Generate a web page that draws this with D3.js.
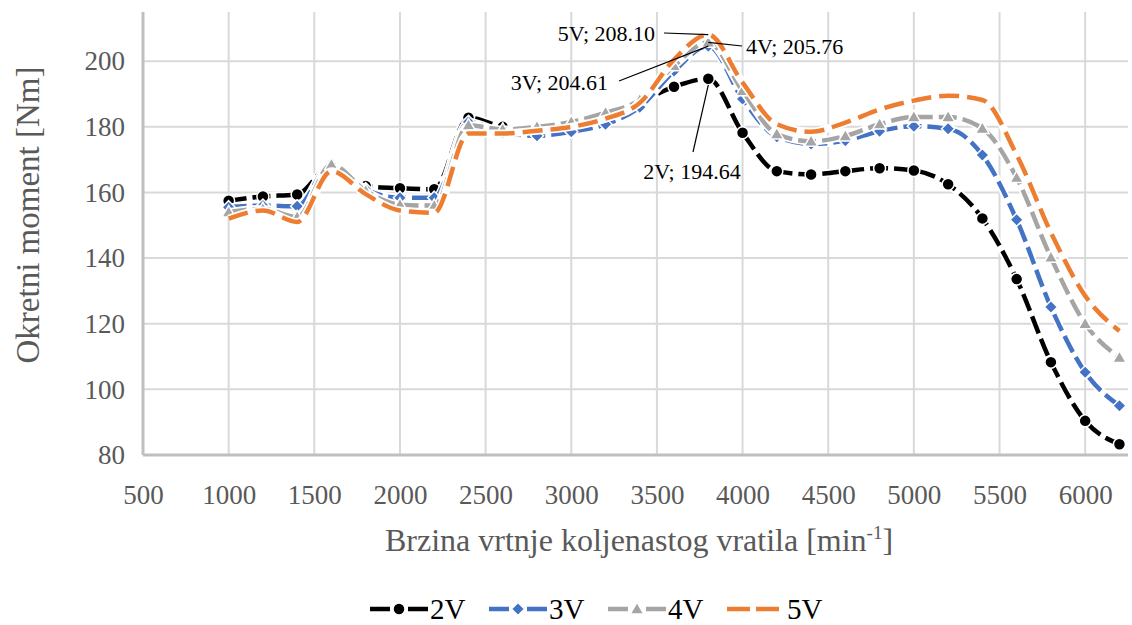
<!DOCTYPE html>
<html>
<head>
<meta charset="utf-8">
<script src="https://cdn.jsdelivr.net/npm/d3@7"></script>
<style>
  body { margin: 0; background: #fff; }
  svg { display: block; }
  svg text { font-family: "Liberation Serif", "DejaVu Serif", "Noto Serif", serif; }
</style>
</head>
<body>
<svg id="chart" width="1132" height="625"></svg>
<script>
// brzina vrtnje [min-1]
var rpm = [1000, 1200, 1400, 1600, 1800, 2000, 2200, 2400, 2600, 2800, 3000, 3200, 3400, 3600,
  3800, 4000, 4200, 4400, 4600, 4800, 5000, 5200, 5400, 5600, 5800, 6000, 6200]

// okretni moment [Nm] po seriji
var m2V = [157.5, 158.8, 159.4, 168.3, 162.0, 161.3, 161.0, 182.8, 180.0, 179.0, 179.0, 183.0, 187.5, 192.2,
  194.64, 178.2, 166.5, 165.5, 166.5, 167.4, 166.7, 162.5, 152.1, 133.6, 108.3, 90.4, 83.3]
var m3V = [155.5, 156.0, 155.8, 168.8, 161.0, 158.4, 158.4, 181.5, 178.3, 177.3, 178.5, 180.8, 186.0, 197.0,
  204.61, 188.5, 177.0, 174.8, 175.8, 178.7, 180.2, 179.4, 171.4, 151.7, 125.1, 105.2, 95.0]
var m4V = [154.0, 155.0, 152.5, 168.5, 160.5, 156.3, 156.0, 180.5, 179.2, 180.0, 181.5, 184.3, 188.2, 198.6,
  205.76, 191.0, 177.8, 175.6, 177.2, 180.8, 183.0, 183.0, 179.5, 164.5, 140.2, 120.0, 109.7]
var m5V = [152.0, 154.5, 151.0, 166.5, 159.5, 154.5, 153.8, 178.0, 178.0, 178.8, 180.0, 182.5, 187.3, 200.5,
  208.10, 193.5, 180.8, 178.5, 181.3, 185.3, 188.0, 189.5, 188.2, 171.5, 147.8, 128.5, 117.8]

var seriesNames = ["2V", "3V", "4V", "5V"]
var xTicks = [500, 1000, 1500, 2000, 2500, 3000, 3500, 4000, 4500, 5000, 5500, 6000]
var yTicks = [80, 100, 120, 140, 160, 180, 200]

// oznake vrha (3800 min-1)
var peakRpm = 3800
var peakLabels = ["5V", "4V", "3V", "2V"]

var values = { "2V": m2V, "3V": m3V, "4V": m4V, "5V": m5V }
var style = {
  "2V": { color: "#000000", marker: "circle", dash: "18,6" },
  "3V": { color: "#4472c4", marker: "diamond", dash: "18,6" },
  "4V": { color: "#a5a5a5", marker: "triangle", dash: "18,6" },
  "5V": { color: "#ed7d31", marker: null, dash: "20,8" }
}
var serif = "Liberation Serif, DejaVu Serif, Noto Serif, serif"

var svg = d3.select("#chart")
var x = d3.scaleLinear().domain([500, 6250]).range([143, 1128])
var y = d3.scaleLinear().domain([80, 215]).range([455, 12])

// mreza
svg.append("g").selectAll("line").data(yTicks.slice(1)).join("line")
  .attr("x1", x(500)).attr("x2", x(6250))
  .attr("y1", d => y(d)).attr("y2", d => y(d))
  .attr("stroke", "#d9d9d9").attr("stroke-width", 2)
svg.append("g").selectAll("line").data(xTicks.slice(1)).join("line")
  .attr("x1", d => x(d)).attr("x2", d => x(d))
  .attr("y1", y(80)).attr("y2", y(215))
  .attr("stroke", "#d9d9d9").attr("stroke-width", 2)

// osi
var xAxis = svg.append("g").attr("transform", "translate(0," + y(80) + ")")
  .call(d3.axisBottom(x).tickValues(xTicks).tickSize(0).tickPadding(30).tickFormat(d3.format("d")))
var yAxis = svg.append("g").attr("transform", "translate(" + x(500) + ",0)")
  .call(d3.axisLeft(y).tickValues(yTicks).tickSize(0).tickPadding(18))
xAxis.attr("font-family", serif)
yAxis.attr("font-family", serif)
xAxis.select(".domain").attr("stroke", "#bfbfbf").attr("stroke-width", 3)
  .attr("d", "M" + x(500) + ",0H" + x(6250))
yAxis.select(".domain").attr("stroke", "#bfbfbf").attr("stroke-width", 3)
  .attr("d", "M0," + y(80) + "V" + y(215))
svg.selectAll(".tick text").attr("font-size", 27).attr("fill", "#595959")

svg.append("text").attr("transform", "translate(39," + 215 + ") rotate(-90)")
  .attr("text-anchor", "middle").attr("font-size", 33).attr("fill", "#595959")
  .text("Okretni moment [Nm]")
var xt = svg.append("text").attr("x", 639).attr("y", 551)
  .attr("text-anchor", "middle").attr("font-size", 32).attr("fill", "#595959")
xt.append("tspan").text("Brzina vrtnje koljenastog vratila [min")
xt.append("tspan").attr("font-size", 19).attr("dy", -12).text("-1")
xt.append("tspan").attr("dy", 12).text("]")

function drawMarker(g, kind, cx, cy, color) {
  if (kind == "circle") {
    g.append("circle").attr("cx", cx).attr("cy", cy).attr("r", 6)
      .attr("fill", color).attr("stroke", "#fff").attr("stroke-width", 1.5)
  } else if (kind == "diamond") {
    g.append("path").attr("d", d3.symbol(d3.symbolDiamond2, 110)())
      .attr("transform", "translate(" + cx + "," + cy + ")")
      .attr("fill", color).attr("stroke", "#fff").attr("stroke-width", 1.5)
  } else if (kind == "triangle") {
    g.append("path").attr("d", d3.symbol(d3.symbolTriangle2, 130)())
      .attr("transform", "translate(" + cx + "," + (cy + 1) + ")")
      .attr("fill", color).attr("stroke", "#fff").attr("stroke-width", 1.5)
  }
}

var line = d3.line().x(d => x(d[0])).y(d => y(d[1])).curve(d3.curveMonotoneX)

seriesNames.forEach(function (name) {
  var pts = rpm.map((r, i) => [r, values[name][i]])
  var s = style[name]
  var g = svg.append("g")
  g.append("path").datum(pts).attr("d", line).attr("fill", "none")
    .attr("stroke", "#fff").attr("stroke-width", 8).attr("stroke-linejoin", "round")
  g.append("path").datum(pts).attr("d", line).attr("fill", "none")
    .attr("stroke", s.color).attr("stroke-width", 4.5).attr("stroke-dasharray", s.dash)
  if (s.marker) pts.forEach(p => drawMarker(g, s.marker, x(p[0]), y(p[1]), s.color))
})

// oznake podataka
var labelPos = {
  "5V": { tx: 655, ty: 41, anchor: "end", lx: 664, ly: 33 },
  "4V": { tx: 746, ty: 54, anchor: "start", lx: 742, ly: 46 },
  "3V": { tx: 608, ty: 90, anchor: "end", lx: 619, ly: 81 },
  "2V": { tx: 692, ty: 179, anchor: "middle", lx: 693, ly: 152 }
}
var px = x(peakRpm), pIdx = rpm.indexOf(peakRpm)
peakLabels.forEach(function (name) {
  var v = values[name][pIdx], p = labelPos[name]
  var py = y(v) + (name == "2V" ? 6 : 0)
  svg.append("line").attr("x1", p.lx).attr("y1", p.ly).attr("x2", px).attr("y2", py)
    .attr("stroke", "#000").attr("stroke-width", 1.2)
  svg.append("text").attr("x", p.tx).attr("y", p.ty).attr("text-anchor", p.anchor)
    .attr("font-size", 22).attr("fill", "#000").text(name + "; " + v.toFixed(2))
})

// legenda
var legend = svg.append("g")
seriesNames.forEach(function (name, i) {
  var s = style[name], x0 = 370 + i * 119, ly = 609
  legend.append("line").attr("x1", x0).attr("x2", x0 + 58).attr("y1", ly).attr("y2", ly)
    .attr("stroke", s.color).attr("stroke-width", 4.5)
    .attr("stroke-dasharray", name == "5V" ? "23,6" : "20,18")
  if (s.marker) drawMarker(legend, s.marker, x0 + 29, ly, s.color)
  legend.append("text").attr("x", x0 + 60).attr("y", ly + 10).attr("font-size", 29)
    .attr("fill", "#000").text(name)
})
</script>
</body>
</html>
